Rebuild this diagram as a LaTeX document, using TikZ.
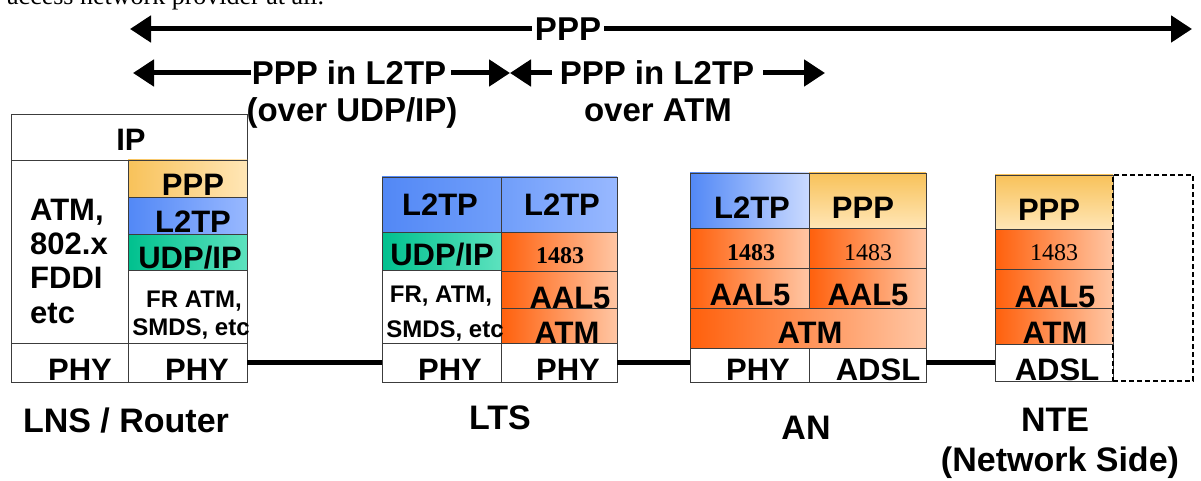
\documentclass[tikz,border=0pt]{standalone}
\usepackage{fontspec}
\setmainfont{Liberation Sans}
\newfontfamily\serifnum{Liberation Serif}
\usepackage{tikz}
\usetikzlibrary{arrows.meta}
\definecolor{Grid}{HTML}{3C3C3C}
\definecolor{PppDark}{RGB}{248,194,90}
\definecolor{PppLight}{RGB}{255,230,182}
\definecolor{LtpDark}{RGB}{82,136,246}
\definecolor{LtpMid}{RGB}{112,158,250}
\definecolor{LtpLight}{RGB}{152,184,255}
\definecolor{LtpPale}{RGB}{202,218,255}
\definecolor{UdpDark}{RGB}{0,192,142}
\definecolor{UdpLight}{RGB}{92,226,190}
\definecolor{AtmDark}{RGB}{255,96,12}
\definecolor{AtmLight}{RGB}{255,198,164}

\begin{document}
\begin{tikzpicture}[x=1pt,y=-1pt,
      cell/.style 2 args={draw=Grid,line width=0.8pt,anchor=north west,inner sep=0pt,outer sep=0pt,
        minimum width=#1,minimum height=#2},
      whitecell/.style 2 args={cell={#1}{#2},fill=white},
      pppcell/.style 2 args={cell={#1}{#2},left color=PppDark,right color=PppLight},
      pppvcell/.style 2 args={cell={#1}{#2},top color=PppDark,bottom color=PppLight},
      ltpcell/.style 2 args={cell={#1}{#2},left color=LtpDark,right color=LtpLight},
      udpcell/.style 2 args={cell={#1}{#2},left color=UdpDark,right color=UdpLight},
      atmcell/.style 2 args={cell={#1}{#2},left color=AtmDark,right color=AtmLight},
      lbl/.style={anchor=base,inner sep=0pt,font=\fontsize{31}{36}\selectfont\bfseries},
      smalllbl/.style={lbl,font=\fontsize{24}{28}\selectfont\bfseries},
      numlbl/.style={lbl,font=\serifnum\fontsize{24}{28}\selectfont},
      numblbl/.style={lbl,font=\serifnum\fontsize{24}{28}\selectfont\bfseries},
      devlbl/.style={lbl,font=\fontsize{34}{40}\selectfont\bfseries},
      spanlbl/.style={inner xsep=3pt,inner ysep=0pt,font=\fontsize{33}{38}\selectfont\bfseries},
      arr/.style={-{Triangle[length=21pt,width=26pt]},line width=5pt},
      link/.style={line width=4.5pt}]
      \useasboundingbox (0,0) rectangle (1201,481);
      % cut-off line of the page above
      \node[anchor=base west,inner sep=0pt,font=\serifnum\fontsize{26}{30}\selectfont] (pagetext) at (7,5) {access network provider at all.};

      % end to end PPP
      \node[spanlbl,fill=white] (pppall) at (568,29) {PPP};
      \coordinate (pppleft) at (130,29);
      \coordinate (pppright) at (1192,29);
      \draw[arr] (pppall.west) -- (pppleft);
      \draw[arr] (pppall.east) -- (pppright);

      % PPP in L2TP, two spans
      \node[spanlbl] (ipspan) at (349,73) {PPP in L2TP};
      \node[spanlbl] (atmspan) at (657,73) {PPP in L2TP};
      \coordinate (ipleft) at (133,73);
      \coordinate (midtip) at (510,73);
      \coordinate (atmright) at (825,73);
      \draw[arr] ([xshift=2pt]ipspan.west) -- (ipleft);
      \draw[arr] ([xshift=2pt]ipspan.east) -- (midtip);
      \draw[arr] ([xshift=-5pt]atmspan.west) -- (midtip);
      \draw[arr] ([xshift=6pt]atmspan.east) -- (atmright);
      \node[spanlbl,anchor=base] (ipsub) at (352,122) {(over UDP/IP)};
      \node[spanlbl,anchor=base] (atmsub) at (658,122) {over ATM};

      % LNS / Router
      \node[whitecell={236pt}{46pt}] (lnsip) at (11,114) {};
      \node[whitecell={117pt}{183pt}] (lnsleft) at (11,160) {};
      \node[pppcell={119pt}{37pt}] (lnsppp) at (128,160) {};
      \node[ltpcell={119pt}{37pt}] (lnsl2tp) at (128,197) {};
      \node[udpcell={119pt}{36pt}] (lnsudp) at (128,234) {};
      \node[whitecell={119pt}{73pt}] (lnsfr) at (128,270) {};
      \node[whitecell={117pt}{39pt}] (lnsphya) at (11,343) {};
      \node[whitecell={119pt}{39pt}] (lnsphyb) at (128,343) {};
      \node[lbl] (lnsipt) at (131,151) {IP};
      \node[lbl,anchor=base west] (lnsleft1) at (30,220) {ATM,};
      \node[lbl,anchor=base west] (lnsleft2) at (30,254) {802.x};
      \node[lbl,anchor=base west] (lnsleft3) at (30,288) {FDDI};
      \node[lbl,anchor=base west] (lnsleft4) at (30,323) {etc};
      \node[lbl] (lnsppptxt) at (193,195) {PPP};
      \node[lbl] (lnsl2tptxt) at (193,232) {L2TP};
      \node[lbl] (lnsudptxt) at (190,268) {UDP/IP};
      \node[smalllbl] (lnsfr1) at (194,307) {FR ATM,};
      \node[smalllbl] (lnsfr2) at (191,335) {SMDS, etc};
      \node[lbl] (lnsphyat) at (80,380) {PHY};
      \node[lbl] (lnsphybt) at (197,380) {PHY};

      % LTS
      \node[cell={119pt}{55pt},left color=LtpDark,right color=LtpMid] (ltsl2tpa) at (382,177) {};
      \node[cell={116pt}{55pt},left color=LtpMid,right color=LtpLight] (ltsl2tpb) at (501,177) {};
      \node[udpcell={119pt}{38pt}] (ltsudp) at (382,232) {};
      \node[whitecell={119pt}{73pt}] (ltsfr) at (382,270) {};
      \node[atmcell={116pt}{39pt}] (lts1483) at (501,232) {};
      \node[atmcell={116pt}{37pt}] (ltsaal) at (501,271) {};
      \node[atmcell={116pt}{35pt}] (ltsatm) at (501,308) {};
      \node[whitecell={119pt}{39pt}] (ltsphya) at (382,343) {};
      \node[whitecell={116pt}{39pt}] (ltsphyb) at (501,343) {};
      \node[lbl] (ltsl2tpat) at (440,215) {L2TP};
      \node[lbl] (ltsl2tpbt) at (562,215) {L2TP};
      \node[lbl] (ltsudpt) at (442,265) {UDP/IP};
      \node[numblbl] (lts1483t) at (560,263) {1483};
      \node[smalllbl] (ltsfr1) at (441,302) {FR, ATM,};
      \node[smalllbl] (ltsfr2) at (445,337) {SMDS, etc};
      \node[lbl] (ltsaalt) at (570,308) {AAL5};
      \node[lbl] (ltsatmt) at (567,343) {ATM};
      \node[lbl] (ltsphyat) at (450,380) {PHY};
      \node[lbl] (ltsphybt) at (568,380) {PHY};

      % AN
      \node[ltpcell={119pt}{55pt},right color=LtpPale] (anl2tp) at (690,173) {};
      \node[pppvcell={117pt}{55pt}] (anppp) at (809,173) {};
      \node[atmcell={119pt}{40pt}] (an1483a) at (690,228) {};
      \node[atmcell={117pt}{40pt}] (an1483b) at (809,228) {};
      \node[atmcell={119pt}{40pt}] (anaala) at (690,268) {};
      \node[atmcell={117pt}{40pt}] (anaalb) at (809,268) {};
      \node[atmcell={236pt}{40pt}] (anatm) at (690,308) {};
      \node[whitecell={119pt}{34pt}] (anphy) at (690,348) {};
      \node[whitecell={117pt}{34pt}] (anadsl) at (809,348) {};
      \node[lbl] (anl2tpt) at (752,218) {L2TP};
      \node[lbl] (anpppt) at (863,218) {PPP};
      \node[numblbl] (an1483at) at (751,260) {1483};
      \node[numlbl] (an1483bt) at (868,260) {1483};
      \node[lbl] (anaalat) at (750,305) {AAL5};
      \node[lbl] (anaalbt) at (868,305) {AAL5};
      \node[lbl] (anatmt) at (810,343) {ATM};
      \node[lbl] (anphyt) at (758,380) {PHY};
      \node[lbl] (anadslt) at (878,380) {ADSL};

      % NTE
      \node[pppvcell={118pt}{54pt}] (nteppp) at (995,175) {};
      \node[atmcell={118pt}{40pt}] (nte1483) at (995,229) {};
      \node[atmcell={118pt}{39pt}] (nteaal) at (995,269) {};
      \node[atmcell={118pt}{36pt}] (nteatm) at (995,308) {};
      \node[whitecell={118pt}{37pt}] (nteadsl) at (995,344) {};
      \node[cell={80pt}{206pt},draw=black,line width=1.4pt,dash pattern=on 5pt off 3pt] (ntecpe) at (1113,175) {};
      \node[lbl] (nteppt) at (1049,220) {PPP};
      \node[numlbl] (nte1483t) at (1054,260) {1483};
      \node[lbl] (nteaalt) at (1055,307) {AAL5};
      \node[lbl] (nteatmt) at (1055,343) {ATM};
      \node[lbl] (nteadslt) at (1057,380) {ADSL};

      % physical links
      \draw[link] (lnsphyb.east) -- (ltsphya.west);
      \draw[link] (ltsphyb.east) -- (ltsphyb.east -| anphy.west);
      \draw[link] (nteadsl.west -| anadsl.east) -- (nteadsl.west);

      % device names
      \node[devlbl] (lnsname) at (126,432) {LNS / Router};
      \node[devlbl] (ltsname) at (500,429) {LTS};
      \node[devlbl] (anname) at (806,439) {AN};
      \node[devlbl] (ntename) at (1055,431) {NTE};
      \node[devlbl] (nteside) at (1060,471) {(Network Side)};
    \end{tikzpicture}
\end{document}
